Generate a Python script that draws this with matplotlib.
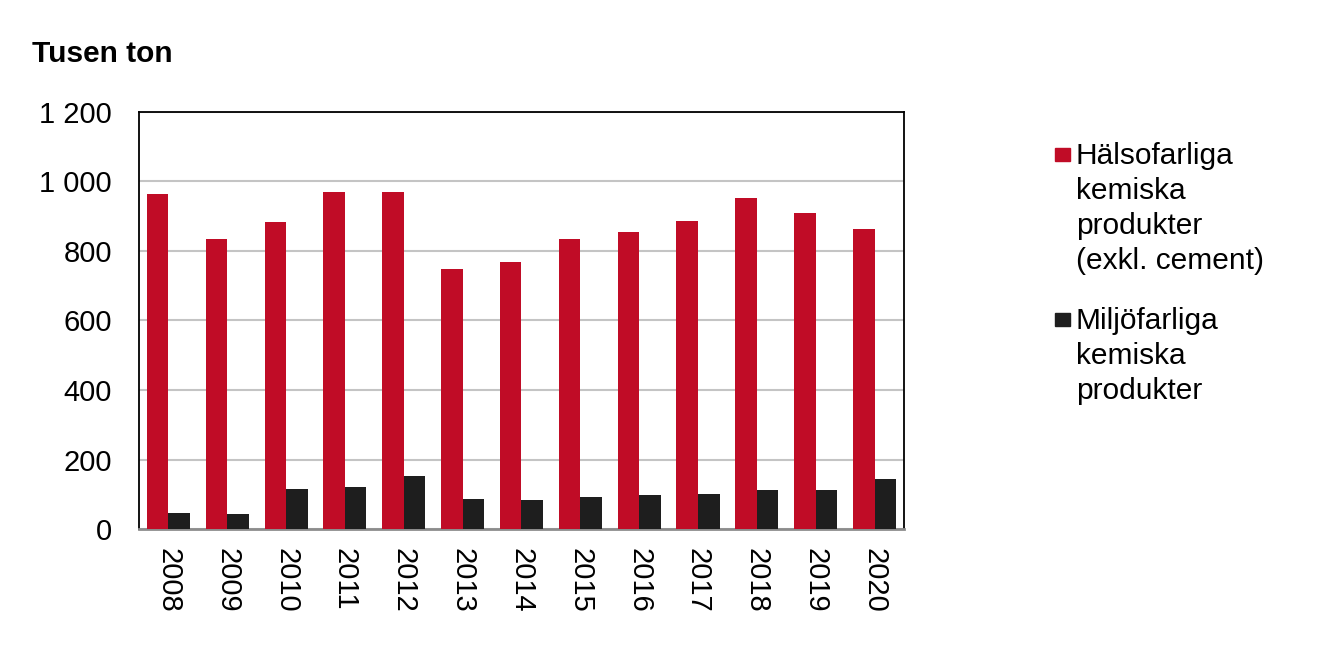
import numpy as np
import matplotlib
matplotlib.use("Agg")
import matplotlib.pyplot as plt
from matplotlib.patches import Rectangle

plt.rcParams["font.family"] = ["Liberation Sans", "DejaVu Sans"]

YEARS = ["2008", "2009", "2010", "2011", "2012", "2013", "2014",
         "2015", "2016", "2017", "2018", "2019", "2020"]
HALSO = [965, 834, 883, 970, 970, 749, 769, 834, 855, 885, 953, 910, 863]
MILJO = [46, 42, 116, 120, 153, 87, 83, 91, 98, 102, 112, 111, 145]
SERIES = ["Hälsofarliga\nkemiska\nprodukter\n(exkl. cement)",
          "Miljöfarliga\nkemiska\nprodukter"]
COLORS = ["#C00C26", "#1E1E1E"]
YTICKS = [0, 200, 400, 600, 800, 1000, 1200]
YTICKLABELS = ["0", "200", "400", "600", "800", "1 000", "1 200"]

fig = plt.figure(figsize=(13.36, 6.65), dpi=100)
ax = fig.add_axes([0.1040, 0.2045, 0.5726, 0.6271])

x = np.arange(len(YEARS))
w = 0.366
ax.bar(x - w / 2, HALSO, w, color=COLORS[0], zorder=3)
ax.bar(x + w / 2, MILJO, w, color=COLORS[1], zorder=3)

ax.set_xlim(-0.5, len(YEARS) - 0.5)
ax.set_ylim(0, 1200)
ax.set_yticks(YTICKS)
ax.set_yticklabels(YTICKLABELS)
ax.set_xticks(x)
ax.set_xticklabels(YEARS, rotation=270, va="top", ha="center")
ax.tick_params(axis="y", length=0, pad=19.5, labelsize=21)
ax.tick_params(axis="x", length=0, pad=13.5, labelsize=21)
ax.yaxis.grid(True, color="#C4C4C4", lw=1.5, zorder=0)
ax.set_axisbelow(True)
for s in ["left", "top", "right"]:
    ax.spines[s].set_color("black")
    ax.spines[s].set_linewidth(1.3)
ax.spines["bottom"].set_color("#8C8C8C")
ax.spines["bottom"].set_linewidth(2)

fig.text(32 / 1336, 1 - 62 / 665, "Tusen ton", fontsize=21.5, fontweight="bold",
         ha="left", va="baseline")

# legend drawn by hand so each marker sits on the first line of its label
tops = [142, 307]
for lab, col, top in zip(SERIES, COLORS, tops):
    fig.patches.append(Rectangle((1055 / 1336, 1 - (top + 19) / 665), 15 / 1336, 13 / 665,
                                 transform=fig.transFigure, color=col))
    fig.text(1076 / 1336, 1 - top / 665, lab, fontsize=21.5, ha="left", va="top",
             linespacing=1.32)

fig.savefig("out.png", dpi=100)
